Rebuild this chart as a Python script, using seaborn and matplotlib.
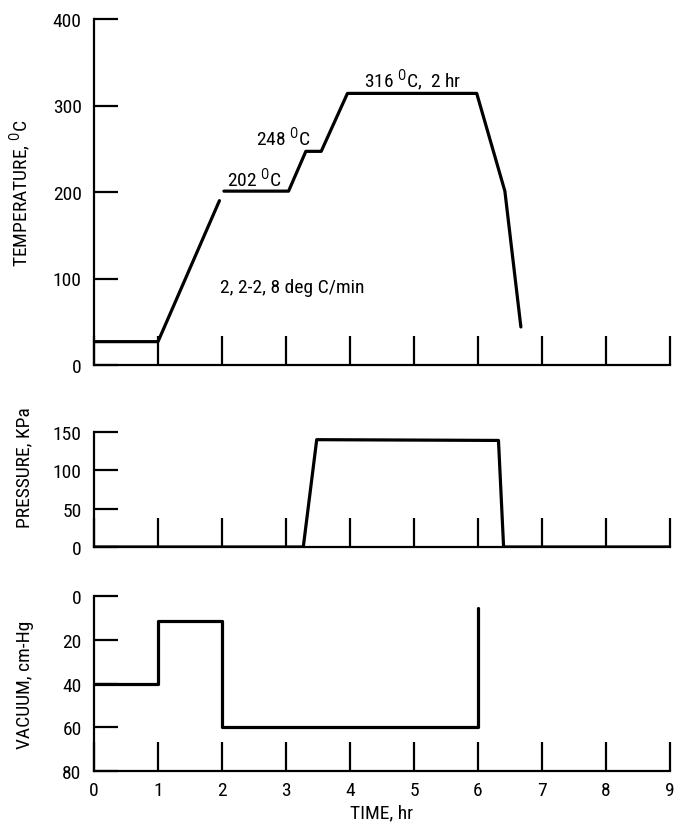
import matplotlib
matplotlib.use("Agg")
import matplotlib.pyplot as plt
from matplotlib import font_manager
import numpy as np
import pandas as pd
import seaborn as sns

# ---- data ----
temp_time = [0.0, 1.0, 1.96, 2.03, 3.04, 3.31, 3.55, 3.96, 5.98, 6.42, 6.67]
temp_val = [27, 27, 190, 201, 201, 247, 247, 314, 314, 201, 44]
temp_seg = [0, 0, 0, 1, 1, 1, 1, 1, 1, 1, 1]

pres_time = [0.0, 3.27, 3.48, 6.32, 6.40, 9.0]
pres_val = [0, 0, 140, 139, 0, 0]

vac_time = [0.0, 1.0, 1.0, 2.0, 2.0, 6.0, 6.0]
vac_val = [40, 40, 11.5, 11.5, 60, 60, 5.5]

x_ticks = list(range(0, 10))
temp_ticks = [0, 100, 200, 300, 400]
pres_ticks = [0, 50, 100, 150]
vac_ticks = [0, 20, 40, 60, 80]

annotations = [
    (4.98, 330, r"316 $^{\mathrm{O}}$C,  2 hr"),
    (2.96, 265, r"248 $^{\mathrm{O}}$C"),
    (2.5, 217, r"202 $^{\mathrm{O}}$C"),
    (3.1, 90, "2, 2-2, 8 deg C/min"),
]

# ---- style ----
sns.set_theme(style="white")
names = {f.name for f in font_manager.fontManager.ttflist}
fam = "DejaVu Sans"
for cand in ["Liberation Sans Narrow", "Roboto Condensed", "Open Sans Condensed", "Roboto"]:
    if cand in names:
        fam = cand
        break
plt.rcParams["font.family"] = [fam, "DejaVu Sans"]
plt.rcParams["mathtext.fontset"] = "custom"
plt.rcParams["mathtext.rm"] = fam
plt.rcParams["mathtext.it"] = fam
plt.rcParams["mathtext.bf"] = fam
plt.rcParams["text.color"] = "black"
plt.rcParams["axes.labelcolor"] = "black"
plt.rcParams["xtick.color"] = "black"
plt.rcParams["ytick.color"] = "black"

FS = 14
LW = 2.3

fig = plt.figure(figsize=(6.75, 8.28), dpi=100)
W, H = 675.0, 828.0


def axes_px(left, right, top, bottom):
    return fig.add_axes([left / W, 1 - bottom / H, (right - left) / W, (bottom - top) / H])


ax1 = axes_px(94, 670, 20, 366)
ax2 = axes_px(94, 670, 433, 548)
ax3 = axes_px(94, 670, 597, 772)

df_t = pd.DataFrame({"time": temp_time, "val": temp_val, "seg": temp_seg})
df_p = pd.DataFrame({"time": pres_time, "val": pres_val})
df_v = pd.DataFrame({"time": vac_time, "val": vac_val})

sns.lineplot(data=df_t, x="time", y="val", units="seg", estimator=None, sort=False,
             color="black", lw=LW, ax=ax1)
sns.lineplot(data=df_p, x="time", y="val", estimator=None, sort=False,
             color="black", lw=LW, ax=ax2)
sns.lineplot(data=df_v, x="time", y="val", estimator=None, sort=False,
             color="black", lw=LW, ax=ax3)

for ax, yt, lim in [(ax1, temp_ticks, (0, 400)), (ax2, pres_ticks, (0, 150)), (ax3, vac_ticks, (80, 0))]:
    ax.set_xlim(0, 9)
    ax.set_ylim(*lim)
    ax.set_xticks(x_ticks)
    ax.set_yticks(yt)
    for s in ["top", "right"]:
        ax.spines[s].set_visible(False)
    for s in ["left", "bottom"]:
        ax.spines[s].set_color("black")
        ax.spines[s].set_linewidth(1.6)
    ax.tick_params(axis="x", bottom=True, direction="in", length=21, width=1.6, color="black",
                   labelsize=FS, pad=7, labelcolor="black")
    ax.tick_params(axis="y", left=True, direction="in", length=17, width=1.6, color="black",
                   labelsize=FS, pad=9, labelcolor="black")
    ax.set_xlabel("")

ax1.tick_params(axis="x", labelbottom=False)
ax2.tick_params(axis="x", labelbottom=False)

ax1.set_ylabel(r"TEMPERATURE, $^{\mathrm{O}}$C", fontsize=FS, color="black")
ax2.set_ylabel("PRESSURE, KPa", fontsize=FS, color="black")
ax3.set_ylabel("VACUUM, cm-Hg", fontsize=FS, color="black")
ax3.set_xlabel("TIME, hr", fontsize=FS, labelpad=3, color="black")

ax1.yaxis.set_label_coords(-0.105, 0.5)
ax2.yaxis.set_label_coords(-0.105, 0.70)
ax3.yaxis.set_label_coords(-0.105, 0.5)

for x, y, s in annotations:
    ax1.text(x, y, s, ha="center", va="center", fontsize=FS, color="black")

fig.savefig("out.png", dpi=100, facecolor="white")
